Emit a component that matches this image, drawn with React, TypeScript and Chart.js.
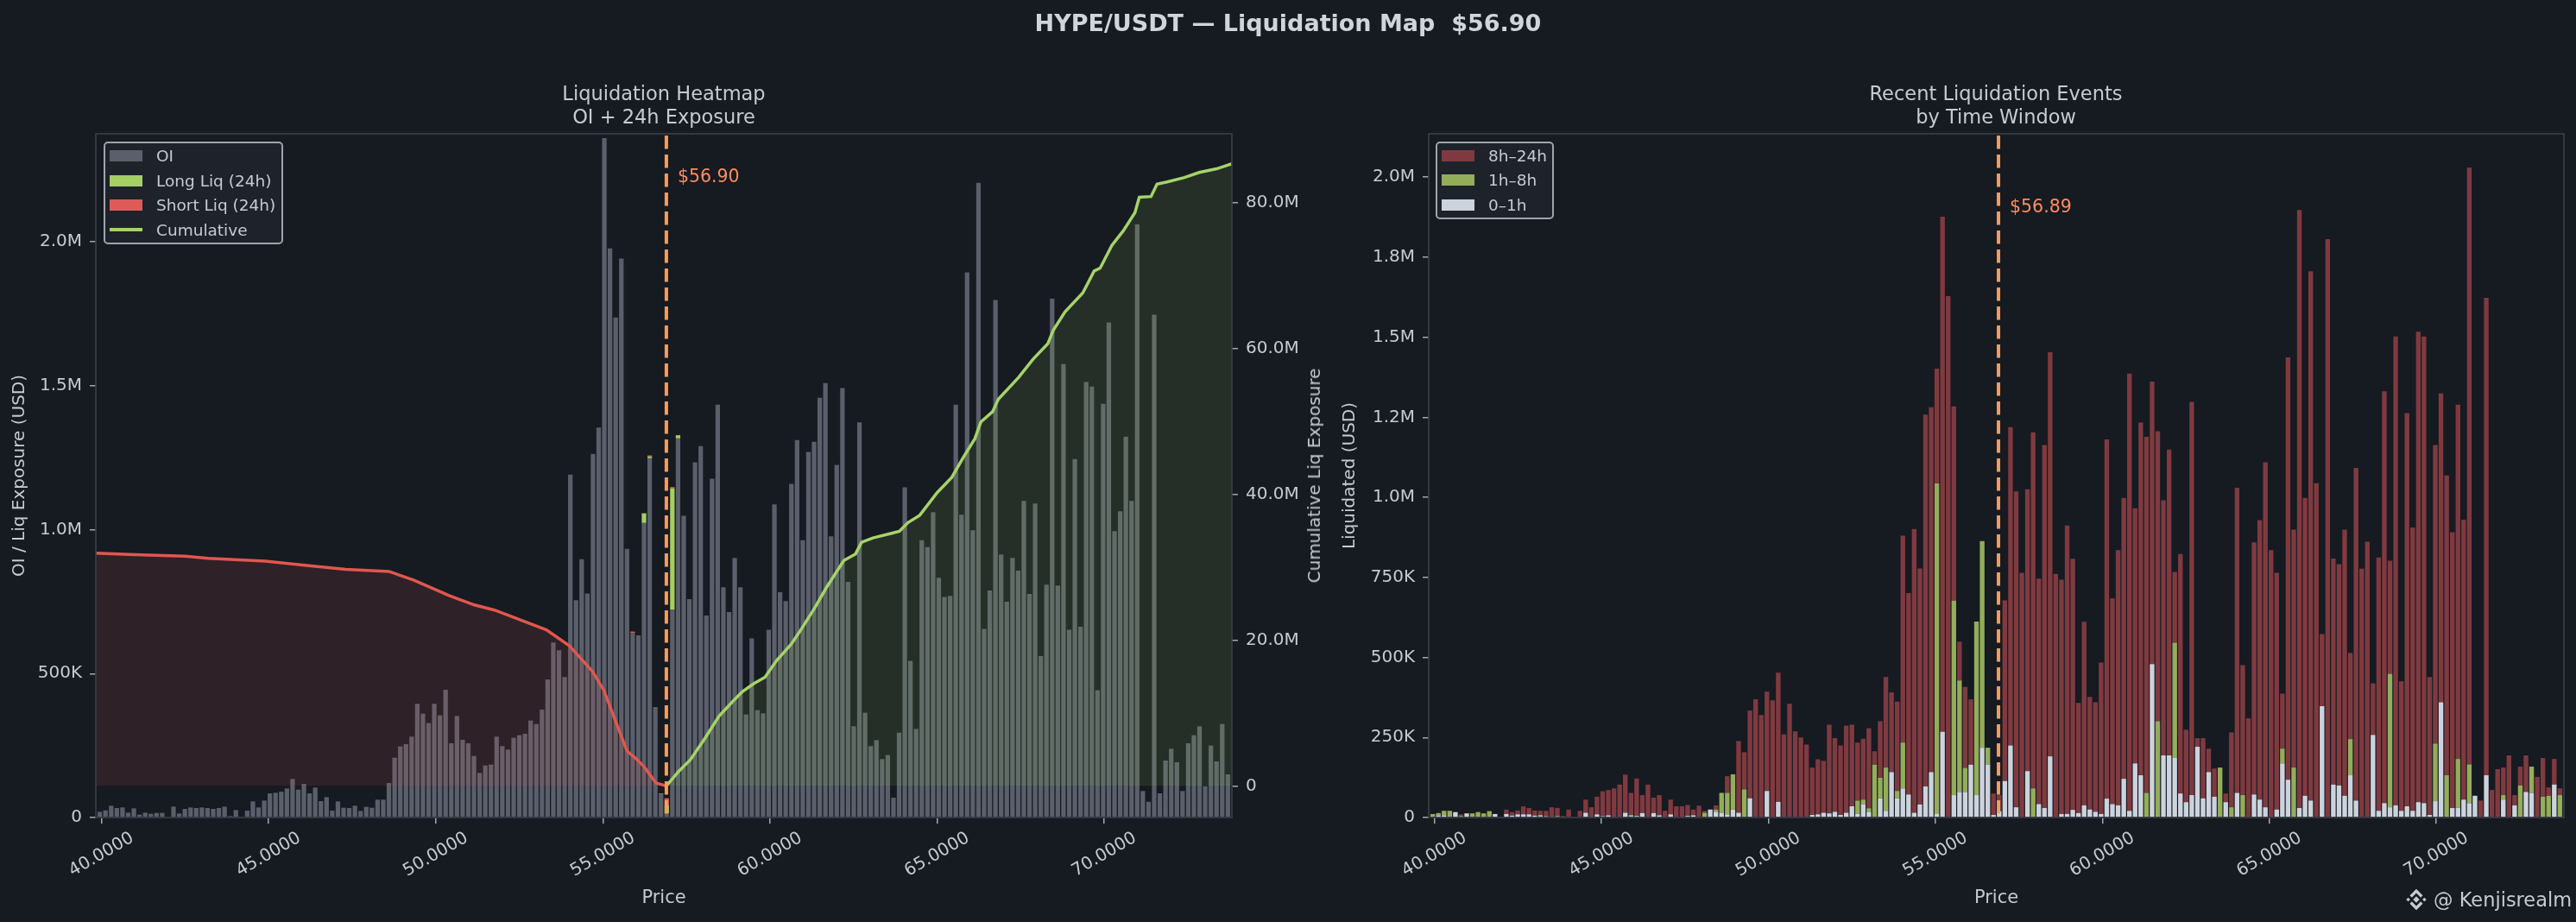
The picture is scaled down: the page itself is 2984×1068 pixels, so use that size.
import { useEffect, useRef } from 'react';
import { Chart, registerables } from 'chart.js';

// Register Chart.js components
Chart.register(...registerables);
Chart.defaults.font.family = "'DejaVu Sans', sans-serif";

// Colours
const BG = '#161a21';
const TEXT = '#c6cad1';
const SPINE = '#393e47';
const TICK_MARK = '#a3a8b0';
const PRICE_LINE = '#ff9b57';
const PRICE_TEXT = '#ff8c5c';
const OI_COLOR = '#5a5f6b';

// Price bins shared by both panels
const BIN_START = 39.95;
const BIN_STEP = 0.1696;
const X_MIN = 39.83;
const X_MAX = 73.82;
const X_TICKS = [40, 45, 50, 55, 60, 65, 70];

const CURRENT_PRICE = 56.9;
const EVENTS_PRICE = 56.89;

// Left panel: open interest per bin (thousand USD)
const OI_K = [
  20, 25, 41, 33, 35, 17, 32, 10, 17, 13, 16, 16, 2, 38, 14, 30, 35, 33, 35, 33,
  30, 33, 38, 5, 26, 2, 24, 56, 35, 59, 84, 86, 90, 101, 134, 97, 117, 84, 104, 57,
  71, 24, 56, 34, 33, 41, 23, 37, 34, 62, 62, 120, 208, 247, 255, 281, 395, 361, 328, 395,
  355, 444, 258, 353, 270, 258, 214, 155, 181, 184, 281, 248, 236, 277, 286, 291, 337, 325, 375, 480,
  608, 581, 488, 1191, 755, 897, 778, 1263, 1355, 2360, 1977, 1737, 1942, 933, 641, 633, 1023, 1248, 384, 80,
  14, 723, 1317, 1048, 759, 1234, 1290, 702, 1177, 1434, 800, 714, 902, 800, 358, 622, 373, 362, 652, 1088,
  783, 752, 1159, 1311, 963, 1270, 1305, 1458, 1509, 977, 1225, 1492, 819, 317, 1373, 364, 248, 269, 203, 217,
  69, 295, 1147, 544, 308, 963, 939, 1061, 833, 766, 770, 1434, 1052, 1894, 998, 2205, 655, 789, 1798, 914,
  750, 902, 858, 1100, 777, 1091, 561, 809, 1802, 806, 1575, 652, 1245, 663, 1513, 1497, 442, 1437, 1720, 995,
  1064, 1323, 1100, 2061, 92, 55, 1747, 84, 198, 239, 192, 92, 258, 286, 317, 109, 250, 195, 325, 150,
];

// 24h liquidations stacked on OI (only a few bins near price have any)
const LONG_LIQ_BINS = [96, 97, 99, 100, 101, 102];
const LONG_LIQ_K = [34, 6, 2, 30, 420, 11];
const SHORT_LIQ_BINS = [94, 97, 99, 100, 101];
const SHORT_LIQ_K = [5, 4, 2, 23, 5];

// Cumulative exposure (million USD) on the right axis
const CUM_SHORT_PRICE = [39.83, 41.0, 42.5, 43.2, 44.9, 46.2, 47.3, 48.6, 49.35, 50.4, 51.16, 51.76, 52.62, 53.31, 54.0, 54.69, 55.03, 55.38, 55.72, 56.0, 56.24, 56.59, 56.9];
const CUM_SHORT_M = [31.9, 31.7, 31.5, 31.2, 30.8, 30.2, 29.7, 29.4, 28.2, 26.1, 24.8, 24.1, 22.6, 21.4, 19.2, 15.7, 13.1, 8.9, 4.8, 3.7, 2.6, 0.4, 0];
const CUM_LONG_PRICE = [
  56.9, 57.27, 57.62, 58.05, 58.48, 58.91, 59.17, 59.51, 59.85, 60.2, 60.63, 60.91, 61.34, 61.69, 62.21, 62.56,
  62.74, 63.08, 63.61, 63.87, 64.13, 64.48, 65.0, 65.44, 65.78, 66.13, 66.31, 66.66, 66.83, 67.44, 67.87, 68.31,
  68.48, 68.83, 69.36, 69.7, 69.88, 70.23, 70.57, 70.92, 71.05, 71.4, 71.58, 71.88, 72.4, 72.84, 73.36, 73.82,
];
const CUM_LONG_M = [
  0, 2.0, 3.6, 6.5, 9.6, 11.7, 12.9, 14.0, 14.9, 17.2, 19.4, 21.3, 24.4, 27.2, 30.9, 31.8,
  33.4, 34.0, 34.6, 34.9, 36.1, 37.1, 40.2, 42.3, 45.0, 47.6, 49.9, 51.3, 53.0, 56.0, 58.5, 60.6,
  62.5, 65.0, 67.6, 70.6, 71.0, 74.1, 76.1, 78.6, 80.7, 80.8, 82.5, 82.8, 83.4, 84.1, 84.6, 85.3,
];

// Right panel: liquidated per bin by time window (thousand USD)
const EVT_0_1H_K = [
  0, 7, 7, 0, 17, 0, 13, 0, 0, 0, 0, 11, 0, 11, 6, 10, 10, 10, 6, 5,
  4, 3, 3, 0, 0, 0, 0, 15, 3, 10, 4, 7, 3, 0, 15, 5, 5, 14, 0, 14,
  7, 0, 10, 0, 0, 5, 7, 0, 0, 25, 18, 15, 10, 25, 15, 0, 60, 0, 0, 83,
  0, 49, 0, 0, 0, 0, 0, 8, 10, 15, 13, 18, 8, 15, 35, 11, 42, 18, 3, 60,
  21, 142, 60, 91, 72, 15, 41, 97, 142, 11, 268, 0, 70, 80, 80, 165, 70, 218, 166, 8,
  20, 114, 225, 32, 0, 145, 0, 42, 30, 191, 0, 11, 11, 24, 14, 38, 25, 18, 11, 59,
  42, 38, 121, 21, 169, 132, 0, 479, 0, 194, 194, 186, 75, 48, 70, 221, 60, 142, 65, 0,
  48, 0, 77, 0, 0, 72, 56, 32, 0, 25, 169, 118, 0, 30, 68, 53, 0, 348, 0, 103,
  100, 68, 132, 53, 0, 0, 258, 21, 45, 32, 38, 21, 35, 21, 48, 45, 8, 51, 360, 0,
  30, 30, 56, 45, 68, 0, 132, 0, 0, 56, 0, 38, 0, 80, 77, 0, 0, 0, 103, 0,
];
const EVT_1_8H_K = [
  11, 7, 14, 21, 0, 5, 0, 13, 17, 13, 20, 0, 0, 0, 0, 0, 0, 0, 0, 3,
  0, 0, 2, 0, 0, 0, 0, 0, 0, 0, 0, 0, 0, 0, 0, 3, 0, 0, 0, 0,
  0, 0, 0, 0, 0, 0, 0, 0, 15, 0, 7, 62, 67, 110, 0, 88, 0, 0, 0, 0,
  0, 0, 0, 0, 0, 0, 0, 0, 0, 0, 0, 0, 0, 0, 0, 42, 14, 11, 162, 64,
  135, 0, 23, 143, 0, 0, 0, 0, 0, 1032, 0, 0, 607, 348, 75, 0, 542, 645, 52, 0,
  0, 0, 0, 0, 0, 0, 91, 0, 0, 0, 0, 0, 0, 0, 0, 0, 0, 0, 0, 0,
  0, 0, 0, 0, 0, 0, 77, 0, 301, 0, 0, 360, 0, 0, 0, 0, 0, 0, 0, 156,
  0, 32, 0, 70, 0, 0, 0, 0, 0, 0, 46, 0, 156, 0, 0, 0, 0, 0, 0, 0,
  0, 0, 113, 0, 0, 0, 0, 0, 0, 417, 0, 0, 0, 0, 0, 0, 0, 180, 0, 132,
  0, 153, 0, 121, 0, 0, 0, 0, 0, 14, 0, 0, 100, 0, 82, 0, 65, 68, 0, 70,
];
const EVT_8_24H_K = [
  0, 0, 0, 0, 0, 5, 0, 0, 0, 0, 0, 0, 0, 14, 11, 12, 25, 20, 16, 13,
  17, 29, 25, 5, 25, 0, 21, 41, 29, 55, 78, 79, 88, 103, 119, 69, 117, 56, 103, 48,
  63, 21, 46, 35, 35, 34, 18, 37, 6, 0, 13, 0, 52, 0, 224, 116, 274, 369, 320, 310,
  366, 403, 260, 355, 269, 250, 228, 148, 172, 162, 277, 230, 217, 272, 255, 181, 190, 250, 42, 177,
  283, 249, 279, 646, 629, 886, 737, 1161, 1139, 359, 1608, 1628, 607, 121, 253, 204, 0, 0, 0, 67,
  50, 564, 994, 986, 764, 880, 1112, 704, 1133, 1262, 761, 732, 901, 784, 344, 573, 352, 342, 473, 1122,
  643, 797, 877, 1365, 797, 1101, 1112, 882, 905, 797, 955, 221, 748, 226, 1228, 27, 188, 73, 88, 0,
  27, 234, 953, 406, 310, 787, 873, 1077, 835, 739, 172, 1319, 743, 1867, 930, 1653, 1044, 225, 1806, 706,
  691, 831, 269, 1039, 777, 861, 161, 791, 1286, 353, 1464, 404, 1228, 885, 1469, 1457, 431, 932, 964, 936,
  861, 1106, 874, 1864, 0, 53, 1491, 86, 151, 86, 194, 32, 59, 114, 0, 127, 121, 26, 80, 21,
];

// Axis ticks
const OI_TICKS = [0, 500000, 1000000, 1500000, 2000000];
const OI_TICK_LABELS = ['0', '500K', '1.0M', '1.5M', '2.0M'];
const CUM_TICKS = [0, 20000000, 40000000, 60000000, 80000000];
const CUM_TICK_LABELS = ['0', '20.0M', '40.0M', '60.0M', '80.0M'];
const EVT_TICKS = [0, 250000, 500000, 750000, 1000000, 1250000, 1500000, 1750000, 2000000];
const EVT_TICK_LABELS = ['0', '250K', '500K', '750K', '1.0M', '1.2M', '1.5M', '1.8M', '2.0M'];

const binPrices = OI_K.map((_, i) => BIN_START + i * BIN_STEP);
const toBars = (vals: number[]) => vals.map((v, i) => ({ x: binPrices[i], y: v * 1000 }));
const sparse = (bins: number[], vals: number[]) => {
  const out = OI_K.map(() => 0);
  bins.forEach((b, k) => { out[b] = vals[k]; });
  return out;
};
const toLine = (prices: number[], vals: number[]) => prices.map((p, i) => ({ x: p, y: vals[i] * 1e6 }));
const tickLabel = (ticks: number[], labels: string[]) => (v: any) => {
  const i = ticks.indexOf(Number(v));
  return i >= 0 ? labels[i] : '';
};

const tickGrid = { drawOnChartArea: false, drawTicks: true, tickLength: 7, color: TICK_MARK, lineWidth: 1.5 };

// Dashed current-price line, frame and centred rotated x labels
function panelPlugin(price: number, label: string, labelValue: number) {
  return {
    id: 'panelDecor',
    afterDatasetsDraw(chart: any) {
      const { ctx, chartArea, scales } = chart;
      const x = scales.x.getPixelForValue(price);
      ctx.save();
      ctx.strokeStyle = PRICE_LINE;
      ctx.lineWidth = 4;
      ctx.setLineDash([15.5, 6.5]);
      ctx.beginPath();
      ctx.moveTo(x, chartArea.top + 2);
      ctx.lineTo(x, chartArea.bottom);
      ctx.stroke();
      ctx.setLineDash([]);
      ctx.fillStyle = PRICE_TEXT;
      ctx.font = "20.5px 'DejaVu Sans'";
      ctx.textBaseline = 'middle';
      ctx.fillText(label, x + 13, scales.y.getPixelForValue(labelValue));
      ctx.strokeStyle = SPINE;
      ctx.lineWidth = 1.7;
      ctx.strokeRect(chartArea.left, chartArea.top, chartArea.width, chartArea.height);
      ctx.restore();
    },
    afterDraw(chart: any) {
      const { ctx, chartArea, scales } = chart;
      ctx.save();
      ctx.fillStyle = TEXT;
      ctx.font = "20px 'DejaVu Sans'";
      ctx.textAlign = 'center';
      ctx.textBaseline = 'middle';
      X_TICKS.forEach((v) => {
        ctx.save();
        ctx.translate(scales.x.getPixelForValue(v), chartArea.bottom + 43);
        ctx.rotate(-Math.PI / 6);
        ctx.fillText(v.toFixed(4), 0, 0);
        ctx.restore();
      });
      ctx.restore();
    },
  };
}

function xScale() {
  return {
    type: 'linear' as const,
    min: X_MIN,
    max: X_MAX,
    stacked: true,
    offset: false,
    afterBuildTicks: (s: any) => { s.ticks = X_TICKS.map((value) => ({ value })); },
    afterFit: (s: any) => { s.height = 110; },
    ticks: { display: false },
    grid: { ...tickGrid, offset: false },
    border: { display: false },
    title: { display: true, text: 'Price', color: TEXT, font: { size: 21 }, padding: { top: 4, bottom: 4 } },
  };
}

function LegendBox({ left, top, width, rowH, items }: {
  left: number; top: number; width: number; rowH: number;
  items: { label: string; color: string; line?: boolean }[];
}) {
  return (
    <div style={{
      position: 'absolute', left, top, width, boxSizing: 'border-box',
      border: '2px solid #9fa4ac', borderRadius: 5, background: 'rgba(31,35,43,0.92)',
    }}>
      {items.map((it) => (
        <div key={it.label} style={{ height: rowH, display: 'flex', alignItems: 'center', paddingLeft: 5 }}>
          <div style={{
            width: 38, height: it.line ? 4 : 13, background: it.color, marginRight: 16,
          }} />
          <span style={{ fontSize: 18.5, color: TEXT, whiteSpace: 'nowrap' }}>{it.label}</span>
        </div>
      ))}
    </div>
  );
}

export default function App() {
  const heatRef = useRef<HTMLCanvasElement>(null);
  const eventsRef = useRef<HTMLCanvasElement>(null);

  useEffect(() => {
    document.body.style.margin = '0';
    document.body.style.background = BG;
    let heatChart: Chart | null = null;
    let eventsChart: Chart | null = null;

    if (heatRef.current) {
      heatChart = new Chart(heatRef.current, {
        type: 'bar',
        data: {
          datasets: [
            {
              type: 'line', label: 'Cumulative', data: toLine(CUM_LONG_PRICE, CUM_LONG_M), yAxisID: 'y1',
              borderColor: '#a6d36a', borderWidth: 3.5, pointRadius: 0, tension: 0,
              fill: 'origin', backgroundColor: 'rgba(160,215,85,0.115)', order: 0,
            },
            {
              type: 'line', label: 'Cumulative short', data: toLine(CUM_SHORT_PRICE, CUM_SHORT_M), yAxisID: 'y1',
              borderColor: '#e0574f', borderWidth: 3.5, pointRadius: 0, tension: 0,
              fill: 'origin', backgroundColor: 'rgba(224,87,79,0.12)', order: 0,
            },
            { type: 'bar', label: 'OI', data: toBars(OI_K), backgroundColor: OI_COLOR, order: 1 },
            { type: 'bar', label: 'Long Liq (24h)', data: toBars(sparse(LONG_LIQ_BINS, LONG_LIQ_K)), backgroundColor: '#a5cf63', order: 1 },
            { type: 'bar', label: 'Short Liq (24h)', data: toBars(sparse(SHORT_LIQ_BINS, SHORT_LIQ_K)), backgroundColor: '#e05a5a', order: 1 },
          ] as any,
        },
        options: {
          responsive: false,
          animation: false,
          events: [],
          datasets: { bar: { barPercentage: 0.8, categoryPercentage: 1, borderWidth: 0 } },
          layout: { padding: { top: 155, bottom: 11, left: 0, right: 0 } },
          plugins: { legend: { display: false }, tooltip: { enabled: false } },
          scales: {
            x: xScale(),
            y: {
              type: 'linear', position: 'left', min: 0, max: 2375000, stacked: true,
              afterBuildTicks: (s: any) => { s.ticks = OI_TICKS.map((value) => ({ value })); },
              afterFit: (s: any) => { s.width = 111; },
              ticks: { color: TEXT, font: { size: 20 }, padding: 9, callback: tickLabel(OI_TICKS, OI_TICK_LABELS) },
              grid: tickGrid,
              border: { display: false },
              title: { display: true, text: 'OI / Liq Exposure (USD)', color: TEXT, font: { size: 20 }, padding: { top: 11, bottom: 0 } },
            },
            y1: {
              type: 'linear', position: 'right', min: -4340000, max: 89400000,
              afterBuildTicks: (s: any) => { s.ticks = CUM_TICKS.map((value) => ({ value })); },
              afterFit: (s: any) => { s.width = 118; },
              ticks: { color: TEXT, font: { size: 20 }, padding: 9, callback: tickLabel(CUM_TICKS, CUM_TICK_LABELS) },
              grid: tickGrid,
              border: { display: false },
            },
          } as any,
        },
        plugins: [panelPlugin(CURRENT_PRICE, '$56.90', 2224000)],
      });
    }

    if (eventsRef.current) {
      eventsChart = new Chart(eventsRef.current, {
        type: 'bar',
        data: {
          datasets: [
            { label: '0–1h', data: toBars(EVT_0_1H_K), backgroundColor: '#cdd3dc' },
            { label: '1h–8h', data: toBars(EVT_1_8H_K), backgroundColor: '#94ad5a' },
            { label: '8h–24h', data: toBars(EVT_8_24H_K), backgroundColor: '#7f3a40' },
          ] as any,
        },
        options: {
          responsive: false,
          animation: false,
          events: [],
          datasets: { bar: { barPercentage: 0.82, categoryPercentage: 1, borderWidth: 0 } },
          layout: { padding: { top: 155, bottom: 11, left: 0, right: 14 } },
          plugins: { legend: { display: false }, tooltip: { enabled: false } },
          scales: {
            x: xScale(),
            y: {
              type: 'linear', position: 'left', min: 0, max: 2135000, stacked: true,
              afterBuildTicks: (s: any) => { s.ticks = EVT_TICKS.map((value) => ({ value })); },
              afterFit: (s: any) => { s.width = 110; },
              ticks: { color: TEXT, font: { size: 20 }, padding: 9, callback: tickLabel(EVT_TICKS, EVT_TICK_LABELS) },
              grid: tickGrid,
              border: { display: false },
              title: { display: true, text: 'Liquidated (USD)', color: TEXT, font: { size: 20 }, padding: { top: 7, bottom: 0 } },
            },
          } as any,
        },
        plugins: [panelPlugin(EVENTS_PRICE, '$56.89', 1904000)],
      });
    }

    // Cleanup function
    return () => {
      heatChart?.destroy();
      eventsChart?.destroy();
    };
  }, []);

  const subtitle = (center: number, lines: string[]) => (
    <div style={{
      position: 'absolute', left: center - 400, width: 800, top: 94.5, textAlign: 'center',
      fontSize: 22.5, lineHeight: '27px', color: TEXT,
    }}>
      {lines.map((l) => <div key={l}>{l}</div>)}
    </div>
  );

  return (
    <div style={{
      position: 'fixed', left: 0, top: 0, width: 2984, height: 1068, background: BG,
      overflow: 'hidden', fontFamily: "'DejaVu Sans', sans-serif",
    }}>
      <canvas ref={heatRef} width={1545} height={1068}
        style={{ position: 'absolute', left: 0, top: 0, width: 1545, height: 1068 }} />
      <canvas ref={eventsRef} width={1439} height={1068}
        style={{ position: 'absolute', left: 1545, top: 0, width: 1439, height: 1068 }} />

      <div style={{
        position: 'absolute', left: 0, top: 10, width: 2984, textAlign: 'center', whiteSpace: 'pre',
        fontSize: 27, fontWeight: 'bold', lineHeight: '34px', color: '#d0d4db',
      }}>
        {'HYPE/USDT — Liquidation Map  $56.90'}
      </div>

      {subtitle(769, ['Liquidation Heatmap', 'OI + 24h Exposure'])}
      {subtitle(2312, ['Recent Liquidation Events', 'by Time Window'])}

      {/* right-hand axis title of the heatmap, reading bottom to top */}
      <div style={{
        position: 'absolute', left: 1522, top: 551, transform: 'translate(-50%, -50%) rotate(-90deg)',
        whiteSpace: 'nowrap', fontSize: 20, color: TEXT,
      }}>
        Cumulative Liq Exposure
      </div>

      <LegendBox left={120} top={164} width={208} rowH={28.7} items={[
        { label: 'OI', color: OI_COLOR },
        { label: 'Long Liq (24h)', color: '#a5cf63' },
        { label: 'Short Liq (24h)', color: '#e05a5a' },
        { label: 'Cumulative', color: '#a6d36a', line: true },
      ]} />
      <LegendBox left={1663} top={164} width={137} rowH={28.5} items={[
        { label: '8h–24h', color: '#7f3a40' },
        { label: '1h–8h', color: '#94ad5a' },
        { label: '0–1h', color: '#cdd3dc' },
      ]} />

      <div style={{
        position: 'absolute', left: 2784, top: 1026, height: 32, display: 'flex', alignItems: 'center',
        color: TEXT, fontSize: 22.5,
      }}>
        <svg width={30} height={30} viewBox="0 0 32 32" style={{ marginRight: 5 }}>
          <g fill={TEXT}>
            <polygon points="16,12 20,16 16,20 12,16" />
            <polygon points="6,13.5 8.5,16 6,18.5 3.5,16" />
            <polygon points="26,13.5 28.5,16 26,18.5 23.5,16" />
            <polygon points="16,3 24,11 21.5,13.5 16,8 10.5,13.5 8,11" />
            <polygon points="16,29 24,21 21.5,18.5 16,24 10.5,18.5 8,21" />
          </g>
        </svg>
        <span style={{ whiteSpace: 'pre' }}>{'@ Kenjisrealm'}</span>
      </div>
    </div>
  );
}
